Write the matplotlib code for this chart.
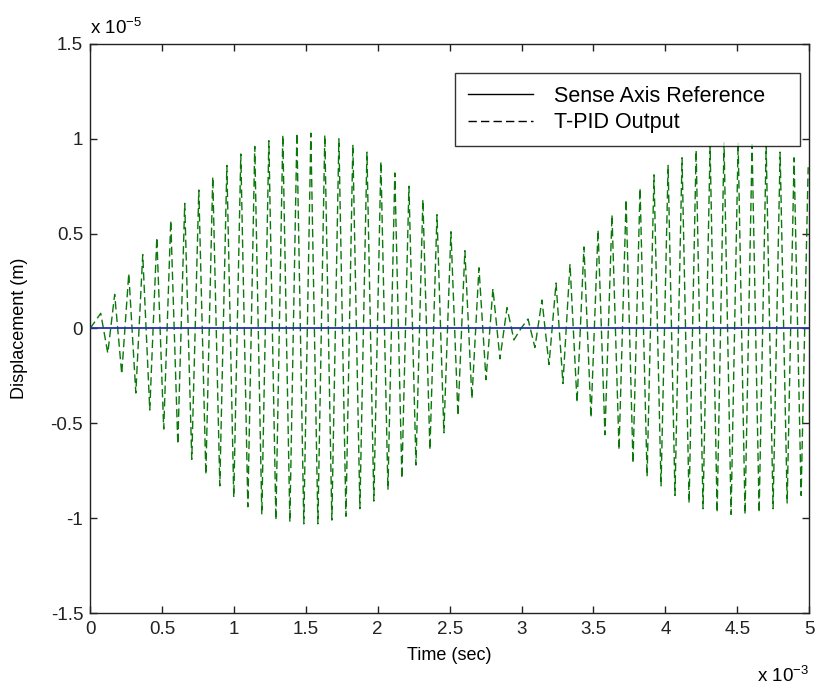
import matplotlib
matplotlib.use("Agg")
import matplotlib.pyplot as plt
from matplotlib.lines import Line2D

plt.rc('font', family=['Liberation Sans', 'DejaVu Sans'])

# time of each crest of the T-PID output (x 1e-3 s)
t_peak = [0.0, 0.074, 0.123, 0.171, 0.220, 0.269, 0.318, 0.366, 0.415, 0.464, 0.512,
          0.561, 0.610, 0.658, 0.707, 0.756, 0.805, 0.853, 0.902, 0.951, 0.999,
          1.048, 1.097, 1.145, 1.194, 1.243, 1.292, 1.340, 1.389, 1.438, 1.486,
          1.535, 1.584, 1.632, 1.681, 1.730, 1.779, 1.827, 1.876, 1.925, 1.973,
          2.022, 2.071, 2.119, 2.168, 2.217, 2.266, 2.314, 2.363, 2.412, 2.460,
          2.509, 2.558, 2.606, 2.655, 2.704, 2.753, 2.801, 2.850, 2.899, 2.947,
          2.996, 3.045, 3.093, 3.142, 3.191, 3.240, 3.288, 3.337, 3.386, 3.434,
          3.483, 3.532, 3.580, 3.629, 3.678, 3.727, 3.775, 3.824, 3.873, 3.921,
          3.970, 4.019, 4.067, 4.116, 4.165, 4.214, 4.262, 4.311, 4.360, 4.408,
          4.457, 4.506, 4.554, 4.603, 4.652, 4.701, 4.749, 4.798, 4.847, 4.895,
          4.944, 4.993]

# crest values (x 1e-5 m)
y_peak = [0.0, 0.08, -0.13, 0.18, -0.24, 0.29, -0.34, 0.39, -0.43, 0.48, -0.53,
          0.57, -0.61, 0.66, -0.69, 0.73, -0.77, 0.80, -0.83, 0.86, -0.89,
          0.92, -0.94, 0.96, -0.98, 0.99, -1.01, 1.02, -1.02, 1.03, -1.03,
          1.03, -1.03, 1.02, -1.01, 1.00, -0.99, 0.97, -0.95, 0.93, -0.91,
          0.88, -0.85, 0.82, -0.79, 0.75, -0.72, 0.68, -0.64, 0.60, -0.55,
          0.51, -0.46, 0.41, -0.37, 0.32, -0.27, 0.21, -0.16, 0.11, -0.06,
          0.00, 0.05, -0.10, 0.15, -0.19, 0.24, -0.29, 0.34, -0.39, 0.43,
          -0.47, 0.52, -0.56, 0.60, -0.64, 0.68, -0.71, 0.74, -0.78, 0.81,
          -0.83, 0.86, -0.88, 0.90, -0.92, 0.94, -0.95, 0.96, -0.97, 0.98,
          -0.98, 0.98, -0.98, 0.97, -0.97, 0.96, -0.95, 0.93, -0.92, 0.90,
          -0.88, 0.85]

t_ref = [0.0, 5.0]
y_ref = [0.0, 0.0]

fig = plt.figure(figsize=(8.19, 6.86), dpi=100)
ax = fig.add_axes([0.110, 0.1064, 0.878, 0.8295])

ax.plot(t_peak, y_peak, color='#0a780a', lw=1.0, dashes=(6, 3), zorder=2)
ax.plot(t_ref, y_ref, color='#2233a8', lw=1.3, zorder=3)

ax.set_xlim(0, 5)
ax.set_ylim(-1.5, 1.5)
ax.set_xticks([0, 0.5, 1, 1.5, 2, 2.5, 3, 3.5, 4, 4.5, 5])
ax.set_xticklabels(['0', '0.5', '1', '1.5', '2', '2.5', '3', '3.5', '4', '4.5', '5'])
ax.set_yticks([-1.5, -1, -0.5, 0, 0.5, 1, 1.5])
ax.set_yticklabels(['-1.5', '-1', '-0.5', '0', '0.5', '1', '1.5'])
ax.tick_params(direction='in', length=5, width=1, top=True, right=True,
               labelsize=13.5, colors='#222222')
ax.tick_params(axis='x', pad=6)
ax.tick_params(axis='y', pad=5)
for s in ax.spines.values():
    s.set_color('#222222')
    s.set_linewidth(1)

ax.set_xlabel('Time (sec)', fontsize=13, labelpad=6)
ax.set_ylabel('Displacement (m)', fontsize=13, labelpad=16)

ax.text(0.0, 1.01, r'x 10$^{\mathregular{-5}}$', transform=ax.transAxes,
        fontsize=13.5, ha='left', va='bottom')
ax.text(1.0, -0.092, r'x 10$^{\mathregular{-3}}$', transform=ax.transAxes,
        fontsize=13.5, ha='right', va='top')

handles = [Line2D([], [], color='black', lw=1),
           Line2D([], [], color='black', lw=1, dashes=(6, 3))]
leg = ax.legend(handles, ['Sense Axis Reference', 'T-PID Output'],
                loc='upper left', bbox_to_anchor=(0.5076, 0.949, 0.48, 0.0),
                mode='expand', fontsize=15.5, frameon=True, fancybox=False,
                borderpad=0.6, handlelength=3.0, labelspacing=0.25,
                handletextpad=1.0, borderaxespad=0)
leg.get_frame().set_edgecolor('black')
leg.get_frame().set_linewidth(1)

fig.savefig('out.png', dpi=100)
